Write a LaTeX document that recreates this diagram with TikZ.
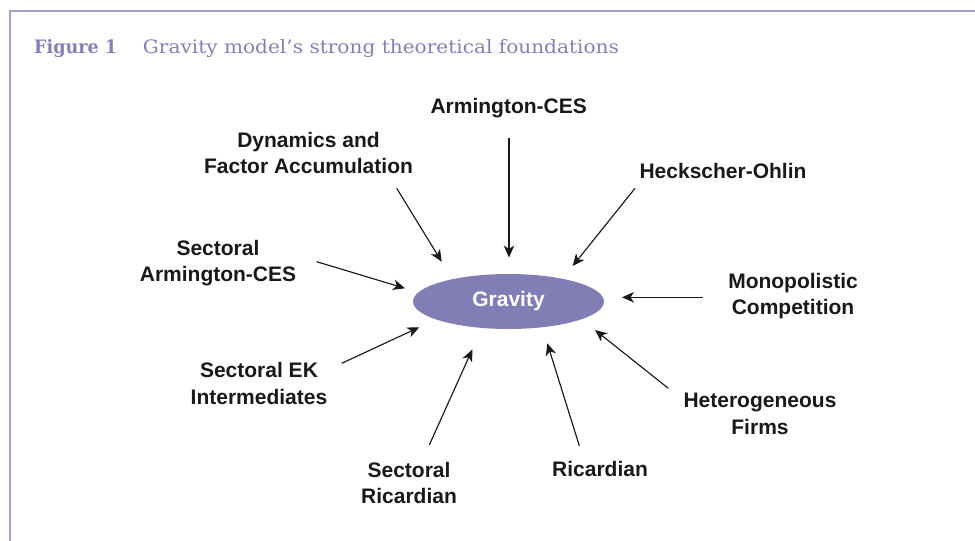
\documentclass[tikz,border=0pt]{standalone}
\usepackage{fontspec}
\setmainfont{Liberation Sans}
\newfontfamily\titlefont{DejaVu Serif}
\usetikzlibrary{shapes.geometric,arrows.meta}
\definecolor{frameC}{HTML}{A29FCB}
\definecolor{titleC}{HTML}{8480B4}
\definecolor{gravC}{HTML}{827DB4}
\tikzset{
  lab/.style={align=center, inner sep=0pt, font=\fontsize{21}{26.5}\selectfont\bfseries, text=black!90},
  arr/.style={draw=black!90, line width=1.15pt, -{Stealth[length=12pt,width=10.5pt,inset=3.5pt]}},
  frameline/.style={draw=frameC, line width=1.5pt},
  ttl/.style={anchor=base west, inner sep=0pt, text=titleC, font=\titlefont\fontsize{18.5}{22}\selectfont}
}
\begin{document}
\begin{tikzpicture}[x=1pt,y=-1pt]
\useasboundingbox (0,0) rectangle (975,541);
% frame
\coordinate (fa) at (10,541);
\coordinate (fb) at (10,11);
\coordinate (fc) at (975,11);
\draw[frameline] (fa) -- (fb) -- (fc);
% title
\node[ttl] (tnum) at (34,53) {\resizebox{83pt}{\height}{\bfseries Figure 1}};
\node[ttl] (ttxt) at (142.7,53) {\resizebox{476pt}{\height}{Gravity model’s strong theoretical foundations}};
% centre
\node[ellipse, fill=gravC, minimum width=191pt, minimum height=55pt, inner sep=0pt,
      font=\fontsize{21}{26.5}\selectfont\bfseries, text=white] (g) at (508.5,301.5) {Gravity};
% labels
\node[lab] (arm) at (508.7,108.2) {Armington-CES};
\node[lab] (dyn) at (308.5,153) {Dynamics and\\Factor Accumulation};
\node[lab] (ho) at (723,171.3) {Heckscher-Ohlin};
\node[lab] (sarm) at (218,263) {Sectoral\\Armington-CES};
\node[lab] (mono) at (793,296) {Monopolistic\\Competition};
\node[lab] (sek) at (259,383.5) {Sectoral EK\\Intermediates};
\node[lab] (het) at (760,413.8) {Heterogeneous\\Firms};
\node[lab] (sric) at (409,482.8) {Sectoral\\Ricardian};
\node[lab] (ric) at (600,469.2) {Ricardian};
% arrow ends
\coordinate (armS) at (509,137.5);   \coordinate (armE) at (509,257.5);
\coordinate (dynS) at (396.7,188.3); \coordinate (dynE) at (441.7,261.7);
\coordinate (hoS) at (635,188.3);    \coordinate (hoE) at (572.7,266);
\coordinate (monoS) at (702.7,297.3); \coordinate (monoE) at (622,297.3);
\coordinate (hetS) at (668.3,388.3); \coordinate (hetE) at (595,330);
\coordinate (ricS) at (579.3,445.7); \coordinate (ricE) at (547.3,343.3);
\coordinate (sricS) at (429.3,445);  \coordinate (sricE) at (472.3,349.5);
\coordinate (sekS) at (341.7,363.3); \coordinate (sekE) at (419.3,327.3);
\coordinate (sarmS) at (316.7,261.7); \coordinate (sarmE) at (405,288.3);
\draw[arr] (armS) -- (armE);
\draw[arr] (dynS) -- (dynE);
\draw[arr] (hoS) -- (hoE);
\draw[arr] (monoS) -- (monoE);
\draw[arr] (hetS) -- (hetE);
\draw[arr] (ricS) -- (ricE);
\draw[arr] (sricS) -- (sricE);
\draw[arr] (sekS) -- (sekE);
\draw[arr] (sarmS) -- (sarmE);
\end{tikzpicture}
\end{document}
